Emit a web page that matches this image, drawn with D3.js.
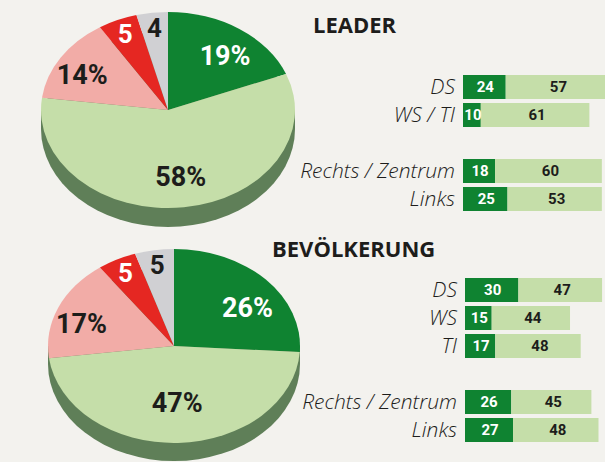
<!DOCTYPE html>
<html>
<head>
<meta charset="utf-8">
<script src="https://cdn.jsdelivr.net/npm/d3@7"></script>
<style>
  body{margin:0;background:#f3f2ee;}
  svg{display:block;}
</style>
</head>
<body>
<svg width="605" height="462"></svg>
<script>
const svg=d3.select('svg');
const width=+svg.attr('width');
const height=+svg.attr('height');

/* data */
const sliceNames=['Zustimmung','Eher Zustimmung','Eher Ablehnung','Ablehnung','Keine Angabe'];
const leaderShares=[19,58,14,5,4];
const bevShares=[26,47,17,5,5];

const leaderGroups=['DS','WS / TI','','Rechts / Zentrum','Links'];
const leaderDark=[24,10,null,18,25];
const leaderLight=[57,61,null,60,53];

const bevGroups=['DS','WS','TI','','Rechts / Zentrum','Links'];
const bevDark=[30,15,17,null,26,27];
const bevLight=[47,44,48,null,45,48];

const colors=['#0f8331','#c5dea9','#f2aca7','#e52722','#d0d0d3'];
const labelColors=['#fff','#1d1d1b','#1d1d1b','#fff','#1d1d1b'];
const sideColor='#5f7f58';

svg.append('rect').attr('width',width).attr('height',height).attr('fill','#f3f2ee');

const pie=d3.pie().sort(null).value(d=>d);

// tilted pie: circle of radius rx squashed to ry
function drawPie(shares,cx,cy,rx,ry,depth,ky){
  const g=svg.append('g');
  // side
  g.append('ellipse').attr('cx',cx).attr('cy',cy+depth).attr('rx',rx).attr('ry',ry).attr('fill',sideColor);
  g.append('rect').attr('x',cx-rx).attr('y',cy).attr('width',rx*2).attr('height',depth).attr('fill',sideColor);

  const arc=d3.arc().innerRadius(0).outerRadius(rx);
  const face=g.append('g').attr('transform',`translate(${cx},${cy}) scale(1,${ry/rx})`);
  const arcs=pie(shares);
  face.selectAll('path')
    .data(arcs)
    .enter()
    .append('path')
      .attr('d',arc)
      .attr('fill',(d,i)=>colors[i]);

  g.selectAll('text')
    .data(arcs)
    .enter()
    .append('text')
      .attr('x',d=>{
        const a=(d.startAngle+d.endAngle)/2;
        const k=d.data<10?0.85:0.8;
        return cx+rx*k*Math.sin(a);
      })
      .attr('y',d=>{
        const a=(d.startAngle+d.endAngle)/2;
        const k=d.data<10?0.85:ky;
        return cy-ry*k*Math.cos(a);
      })
      .attr('dy','0.36em')
      .attr('text-anchor','middle')
      .attr('font-family','Roboto, sans-serif')
      .attr('font-weight',700)
      .attr('font-size',d=>d.data<10?26:27)
      .attr('fill',(d,i)=>labelColors[i])
      .text(d=>d.data<10?d.data:d.data+'%');
}

drawPie(leaderShares,168,110,127,98,19,0.68);
drawPie(bevShares,174,346,126,97,18,0.58);

/* titles */
svg.append('text')
   .attr('x',313).attr('y',33)
   .text('LEADER')
   .attr('font-family','"Open Sans", sans-serif')
   .attr('font-weight',700).attr('font-size',22)
   .attr('fill','#1d1d1b');
svg.append('text')
   .attr('x',272).attr('y',257)
   .text('BEVÖLKERUNG')
   .attr('font-family','"Open Sans", sans-serif')
   .attr('font-weight',700).attr('font-size',22)
   .attr('fill','#1d1d1b');

/* bars */
function drawBars(groups,dark,light,x0,y0){
  const x=d3.scaleLinear().domain([0,100]).range([x0,x0+178]);
  const y=d3.scaleBand()
     .domain(groups.map((d,i)=>d||'gap'+i))
     .range([y0,y0+28*(groups.length-4/28)])
     .paddingInner(4/28)
     .paddingOuter(0);
  const rows=groups.map((g,i)=>({key:g||'gap'+i,label:g,dark:dark[i],light:light[i]}))
     .filter(d=>d.dark!=null);
  const g=svg.append('g');
  const row=g.selectAll('g').data(rows).enter().append('g');

  row.append('rect')
     .attr('x',x(0))
     .attr('y',d=>y(d.key))
     .attr('width',d=>x(d.dark)-x(0))
     .attr('height',y.bandwidth())
     .attr('fill',colors[0]);
  row.append('rect')
     .attr('x',d=>x(d.dark))
     .attr('y',d=>y(d.key))
     .attr('width',d=>x(d.dark+d.light)-x(d.dark))
     .attr('height',y.bandwidth())
     .attr('fill',colors[1]);

  row.append('text')
     .attr('x',d=>(x(0)+x(d.dark))/2+1)
     .attr('y',d=>y(d.key)+y.bandwidth()/2)
     .attr('dy','0.36em')
     .attr('text-anchor','middle')
     .attr('font-family','Roboto, sans-serif').attr('font-weight',700).attr('font-size',15)
     .attr('fill','#fff')
     .text(d=>d.dark);
  row.append('text')
     .attr('x',d=>(x(d.dark)+x(d.dark+d.light))/2+2)
     .attr('y',d=>y(d.key)+y.bandwidth()/2)
     .attr('dy','0.36em')
     .attr('text-anchor','middle')
     .attr('font-family','Roboto, sans-serif').attr('font-weight',700).attr('font-size',15)
     .attr('fill','#1d1d1b')
     .text(d=>d.light);

  // category labels
  row.append('text')
     .attr('x',x0-8)
     .attr('y',d=>y(d.key)+y.bandwidth()/2+7)
     .attr('text-anchor','end')
     .attr('font-family','"Open Sans", sans-serif').attr('font-style','italic').attr('font-weight',300)
     .attr('font-size',21)
     .attr('fill','#1d1d1b')
     .text(d=>d.label);
}

drawBars(leaderGroups,leaderDark,leaderLight,463,75);
drawBars(bevGroups,bevDark,bevLight,465,278);
</script>
</body>
</html>
